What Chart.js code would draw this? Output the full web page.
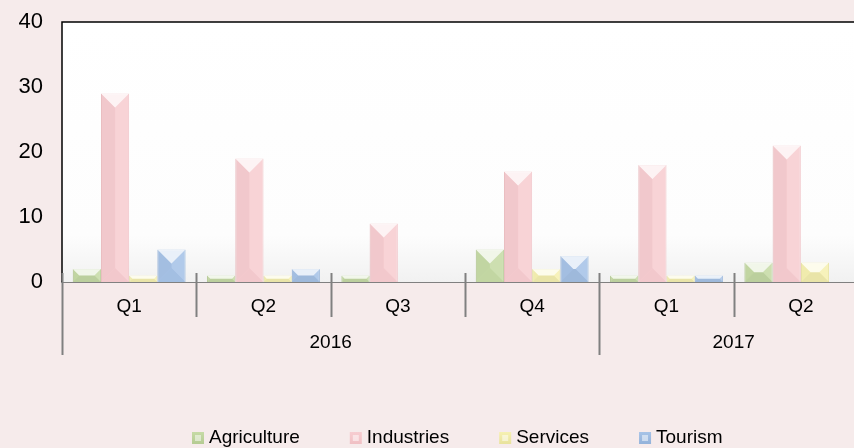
<!DOCTYPE html>
<html>
<head>
<meta charset="utf-8">
<script src="https://cdn.jsdelivr.net/npm/chart.js@4.4.1/dist/chart.umd.min.js"></script>
<style>
  html, body { margin: 0; padding: 0; background: #f6ebeb; overflow: hidden; }
  #wrap { position: absolute; left: 0; top: 0; width: 868px; height: 448px; }
</style>
</head>
<body>
<div id="wrap"><canvas id="chart" width="868" height="448"></canvas></div>
<script>
// quarters and their year groups
const quarters = ['Q1', 'Q2', 'Q3', 'Q4', 'Q1', 'Q2'];
const years = ['2016', '2017'];
const yearSpans = [4, 2];

// series values
const agriculture = [2, 1, 1, 5, 1, 3];
const industries = [29, 19, 9, 17, 18, 21];
const services = [1, 1, 0, 2, 1, 3];
const tourism = [5, 2, 0, 4, 1, 0];

const yTicks = [0, 10, 20, 30, 40];

const FONT = '"Liberation Sans", Arial, sans-serif';

const seriesStyle = [
    { label: 'Agriculture', data: agriculture, fill: '#c6dba6', border: '#b4cb92' },
    { label: 'Industries', data: industries, fill: '#f7cdd1', border: '#f0c0c4' },
    { label: 'Services', data: services, fill: '#f6f1b2', border: '#e8e29c' },
    { label: 'Tourism', data: tourism, fill: '#a7c3e7', border: '#93b2da' }
];

// plot background + frame, drawn behind the bars
const backdrop = {
    id: 'backdrop',
    beforeDatasetsDraw(chart) {
        const { ctx, chartArea: a } = chart;
        const g = ctx.createLinearGradient(0, a.top, 0, a.bottom);
        g.addColorStop(0, '#ffffff');
        g.addColorStop(0.82, '#fdfdfd');
        g.addColorStop(1, '#f1f1f1');
        ctx.save();
        ctx.fillStyle = g;
        ctx.fillRect(a.left, a.top, a.right - a.left, a.bottom - a.top);
        ctx.strokeStyle = '#000';
        ctx.lineWidth = 1.5;
        ctx.beginPath();
        ctx.moveTo(a.left, a.bottom);
        ctx.lineTo(a.left, a.top);
        ctx.lineTo(a.right, a.top);
        ctx.stroke();
        ctx.restore();
    }
};

// bevel shading on each bar
const bevel = {
    id: 'bevel',
    afterDatasetsDraw(chart) {
        const ctx = chart.ctx;
        chart.data.datasets.forEach((ds, i) => {
            chart.getDatasetMeta(i).data.forEach(bar => {
                const x0 = bar.x - bar.width / 2, x1 = bar.x + bar.width / 2;
                const y0 = Math.min(bar.y, bar.base), y1 = Math.max(bar.y, bar.base);
                const h = y1 - y0;
                if (h < 1) return;
                const b = Math.min(bar.width / 2, h / 2, 14);
                const poly = (pts, color) => {
                    ctx.fillStyle = color;
                    ctx.beginPath();
                    ctx.moveTo(pts[0][0], pts[0][1]);
                    pts.slice(1).forEach(p => ctx.lineTo(p[0], p[1]));
                    ctx.closePath();
                    ctx.fill();
                };
                ctx.save();
                poly([[x0, y0], [x1, y0], [x1 - b, y0 + b], [x0 + b, y0 + b]], 'rgba(255,255,255,0.75)');
                poly([[x0, y0], [x0 + b, y0 + b], [x0 + b, y1 - b], [x0, y1]], 'rgba(0,0,0,0.025)');
                poly([[x1, y0], [x1 - b, y0 + b], [x1 - b, y1 - b], [x1, y1]], 'rgba(255,255,255,0.12)');
                poly([[x0, y1], [x1, y1], [x1 - b, y1 - b], [x0 + b, y1 - b]], h > bar.width ? 'rgba(0,0,0,0.02)' : 'rgba(0,0,0,0.05)');
                if (h > bar.width) {
                    // inner face of tall bars: left half a bit darker
                    poly([[x0 + b, y0 + b], [bar.x, y0 + b], [bar.x, y1 - b], [x0 + b, y1 - b]], 'rgba(0,0,0,0.02)');
                }
                ctx.restore();
            });
        });
    }
};

// two-level category axis and the legend
const groupAxis = {
    id: 'groupAxis',
    afterDraw(chart) {
        const { ctx, chartArea: a } = chart;
        const xs = chart.scales.x;
        const step = xs.getPixelForValue(1) - xs.getPixelForValue(0);
        const edge = i => xs.getPixelForValue(0) - step / 2 + i * step;
        const yearEdges = [0];
        yearSpans.forEach(s => yearEdges.push(yearEdges[yearEdges.length - 1] + s));

        ctx.save();
        ctx.strokeStyle = '#808080';
        ctx.lineWidth = 2;
        for (let i = 0; i <= quarters.length; i++) {
            const x = Math.round(edge(i)) + 0.5;
            const long = yearEdges.includes(i);
            ctx.beginPath();
            ctx.moveTo(x, a.bottom - 9);
            ctx.lineTo(x, a.bottom + (long ? 73 : 35));
            ctx.stroke();
        }
        ctx.fillStyle = '#000';
        ctx.font = '19px ' + FONT;
        ctx.textAlign = 'center';
        ctx.textBaseline = 'middle';
        years.forEach((y, k) => {
            const cx = (edge(yearEdges[k]) + edge(yearEdges[k + 1])) / 2;
            ctx.fillText(y, cx, a.bottom + 61);
        });

        // legend
        ctx.textAlign = 'left';
        const box = 12, gapText = 5, gapItem = 50;
        const widths = seriesStyle.map(s => box + gapText + ctx.measureText(s.label).width);
        let x = 192;
        const cy = 438;
        seriesStyle.forEach((s, k) => {
            const g = ctx.createLinearGradient(x, cy - box / 2, x, cy + box / 2);
            g.addColorStop(0, s.fill);
            g.addColorStop(1, s.border);
            ctx.fillStyle = g;
            ctx.fillRect(x, cy - box / 2, box, box);
            ctx.fillStyle = 'rgba(255,255,255,0.5)';
            ctx.fillRect(x + 3, cy - 3, box - 6, 6);
            ctx.fillStyle = '#000';
            ctx.fillText(s.label, x + box + gapText, cy);
            x += widths[k] + gapItem;
        });
        ctx.restore();
    }
};

new Chart(document.getElementById('chart'), {
    type: 'bar',
    data: {
        labels: quarters,
        datasets: seriesStyle.map(s => ({
            label: s.label,
            data: s.data,
            backgroundColor: s.fill,
            borderColor: s.border,
            borderWidth: 1,
            categoryPercentage: 0.84,
            barPercentage: 1.0
        }))
    },
    options: {
        responsive: false,
        animation: false,
        layout: { padding: { top: 22, left: 0, right: 0, bottom: 0 } },
        plugins: {
            legend: { display: false },
            tooltip: { enabled: false }
        },
        scales: {
            x: {
                grid: { display: false },
                border: { display: true, color: '#808080', width: 2 },
                ticks: { color: '#000', font: { size: 19, family: FONT }, padding: 5 },
                afterFit(scale) {
                    scale.height = 166;
                    scale.paddingLeft = 0;
                    scale.paddingRight = 0;
                }
            },
            y: {
                min: 0,
                max: 40,
                grid: { display: false },
                border: { display: false },
                afterBuildTicks(scale) { scale.ticks = yTicks.map(v => ({ value: v })); },
                ticks: { color: '#000', font: { size: 22, family: FONT }, padding: 11 },
                afterFit(scale) {
                    scale.width = 62;
                    scale.paddingTop = 0;
                    scale.paddingBottom = 0;
                }
            }
        }
    },
    plugins: [backdrop, bevel, groupAxis]
});
</script>
</body>
</html>
